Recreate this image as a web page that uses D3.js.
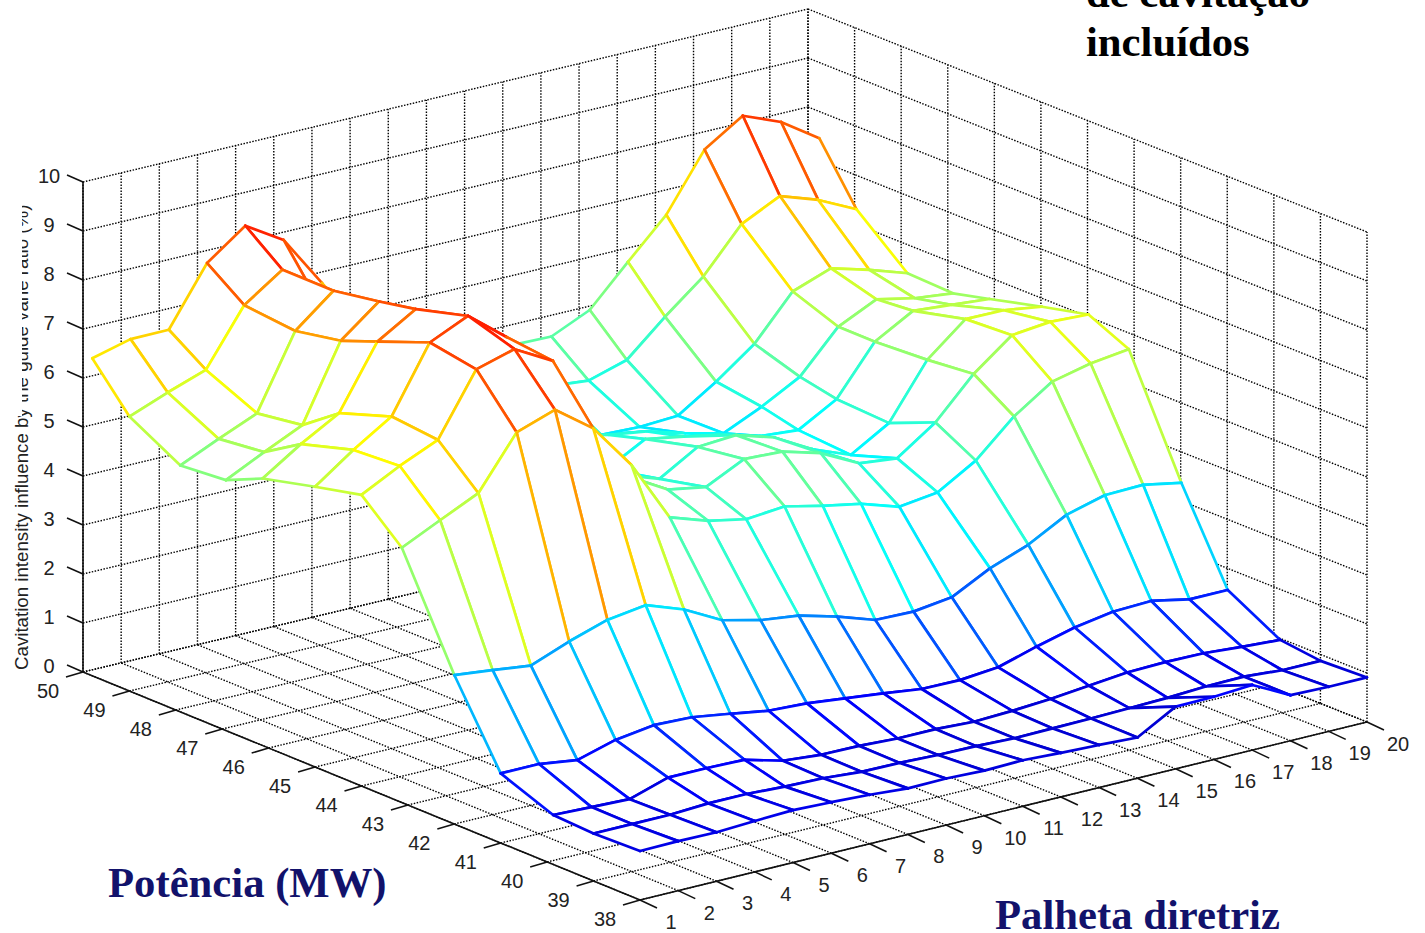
<!DOCTYPE html>
<html>
<head>
<meta charset="utf-8">
<script src="https://cdn.jsdelivr.net/npm/d3@7"></script>
<style>
  body { margin: 0; background: #fff; overflow: hidden; }
  text { font-family: "Liberation Sans", Arial, sans-serif; }
  .title { font-family: "Liberation Serif", "Times New Roman", serif; font-weight: bold; }
</style>
</head>
<body>
<script>
const palhetaTicks = d3.range(1, 21);
const potenciaTicks = d3.range(38, 51);
const zTicks = d3.range(0, 11);

// power values really sampled, they are not quite on the ticks
const potenciaGrid = [38, 39, 39.87, 41, 42, 43.13, 44, 45, 46.13, 46.92, 47.9, 49, 49.8];

const z38 = [1.00,1.01,1.00,1.04,1.07,1.04,1.00,0.94,0.95,0.92,0.94,0.90,0.87,0.83,1.27,1.28,1.33,0.93,0.91,0.91];
const z39 = [0.97,0.97,0.97,1.01,1.01,0.97,0.95,0.89,0.88,0.85,0.84,0.81,0.82,0.83,0.85,0.87,0.91,0.92,0.86,0.86];
const z40 = [1.01,0.98,0.95,1.20,1.20,1.18,0.97,0.90,0.89,0.85,0.85,0.81,0.84,0.89,0.97,1.05,1.07,1.06,1.00,0.95];
const z41 = [1.42,1.42,1.31,1.53,1.64,1.61,1.49,1.36,1.32,1.23,1.14,1.04,1.03,1.10,1.33,1.53,1.66,1.69,1.53,1.53];
const z42 = [3.04,2.95,2.85,3.15,3.40,3.51,3.23,2.82,2.63,2.53,2.32,2.06,2.04,2.14,2.54,2.83,3.25,3.46,3.48,3.33];
const z43 = [5.20,5.57,5.93,6.98,7.25,6.68,5.74,4.48,4.22,4.06,4.13,3.95,3.80,3.55,3.65,4.11,4.82,5.34,5.52,5.62];
const z44 = [5.94,6.34,6.68,7.93,8.15,7.72,5.30,4.97,4.52,4.38,4.76,4.72,4.50,4.10,4.01,4.55,5.35,5.95,6.03,5.99];
const z45 = [5.72,6.28,6.77,8.09,8.44,7.82,6.50,5.40,4.43,4.16,4.62,4.67,4.43,4.00,3.69,4.15,5.25,5.89,5.88,5.76];
const z46 = [5.45,5.96,6.40,7.67,8.14,7.60,6.60,5.50,4.20,3.92,4.34,4.20,4.05,3.83,3.76,4.20,5.18,5.62,5.55,5.48];
const z47 = [5.11,5.49,5.85,7.38,7.99,7.20,6.00,5.00,4.50,4.30,4.12,4.00,3.77,3.58,3.93,4.35,5.18,5.55,5.38,5.29];
const z48 = [5.03,5.38,5.71,7.20,7.83,7.00,6.00,5.00,4.30,3.90,3.70,3.55,3.52,3.56,4.06,4.64,5.52,5.80,5.58,5.32];
const z49 = [5.60,5.90,6.17,7.30,7.83,6.90,6.00,5.20,4.70,4.40,4.20,4.12,4.04,4.27,4.96,5.59,6.47,6.85,6.58,6.20];
const z50 = [6.48,6.68,6.68,7.85,8.42,7.94,6.87,5.80,5.30,5.00,4.80,4.65,4.63,4.98,5.77,6.54,7.68,8.18,7.86,7.34];
const zRows = [z38, z39, z40, z41, z42, z43, z44, z45, z46, z47, z48, z49, z50];

const w = 1425;
const h = 933;

const svg = d3.select("body").append("svg")
  .attr("width", w)
  .attr("height", h)
  .style("display", "block");

// oblique projection: each data axis gets its own pair of pixel scales
const xToPx = d3.scaleLinear().domain([1, 20]).range([0, 727]);
const xToPy = d3.scaleLinear().domain([1, 20]).range([0, -178]);
const yToPx = d3.scaleLinear().domain([38, 50]).range([0, -557]);
const yToPy = d3.scaleLinear().domain([38, 50]).range([0, -228]);
const zToPy = d3.scaleLinear().domain([0, 10]).range([0, -490]);

const project = (x, y, z) => [
  640 + xToPx(x) + yToPx(y),
  900 + xToPy(x) + yToPy(y) + zToPy(z)
];

// the scanned box is a bit skewed, its far corner sits lower than a true projection
const xFrac = d3.scaleLinear().domain([1, 20]).range([0, 1]);
const yFrac = d3.scaleLinear().domain([38, 50]).range([0, 1]);
const projectBox = (x, y, z) => {
  const p = project(x, y, z);
  const k = xFrac(x) * yFrac(y);
  return [p[0] - 2 * k, p[1] + 5 * k];
};

// jet colormap with caxis 0..10
const clamp = (v) => Math.max(0, Math.min(1, v));
const jet = (z) => {
  const t = z / 10;
  const r = clamp(Math.min(4 * t - 1.5, 4.5 - 4 * t));
  const g = clamp(Math.min(4 * t - 0.5, 3.5 - 4 * t));
  const b = clamp(Math.min(4 * t + 0.5, 2.5 - 4 * t));
  return d3.rgb(r * 255, g * 255, b * 255).formatHex();
};

const seg = (g, a, b) => g.append("line")
  .attr("x1", a[0]).attr("y1", a[1])
  .attr("x2", b[0]).attr("y2", b[1]);

// dotted grid on the two back walls and the floor
const gridG = svg.append("g")
  .attr("stroke", "#000")
  .attr("stroke-width", 1.4)
  .attr("stroke-dasharray", "1.5,1.5");

zTicks.forEach((z) => {
  seg(gridG, projectBox(1, 50, z), projectBox(20, 50, z));
  seg(gridG, projectBox(20, 50, z), projectBox(20, 38, z));
});
palhetaTicks.forEach((x) => {
  seg(gridG, projectBox(x, 50, 0), projectBox(x, 50, 10));
  seg(gridG, projectBox(x, 38, 0), projectBox(x, 50, 0));
});
potenciaTicks.forEach((y) => {
  seg(gridG, projectBox(20, y, 0), projectBox(20, y, 10));
  seg(gridG, projectBox(1, y, 0), projectBox(20, y, 0));
});

// axis lines
const axisG = svg.append("g").attr("stroke", "#111").attr("stroke-width", 1.6);
seg(axisG, project(1, 38, 0), project(20, 38, 0));
seg(axisG, project(1, 38, 0), project(1, 50, 0));
seg(axisG, project(1, 50, 0), project(1, 50, 10));

const tickLabel = (x, y, label) => svg.append("text")
  .attr("x", x).attr("y", y)
  .attr("text-anchor", "middle")
  .attr("dominant-baseline", "central")
  .attr("font-size", 20)
  .attr("fill", "#222")
  .text(label);

palhetaTicks.forEach((x) => {
  const p = project(x, 38, 0);
  seg(axisG, p, [p[0] + 17, p[1] + 8]);
  tickLabel(p[0] + 31, p[1] + 22, x);
});
potenciaTicks.forEach((y) => {
  const p = project(1, y, 0);
  seg(axisG, p, [p[0] - 17, p[1] + 5]);
  tickLabel(p[0] - 35, p[1] + 19, y);
});
zTicks.forEach((z) => {
  const p = project(1, 50, z);
  seg(axisG, p, [p[0] - 16, p[1] - 7]);
  tickLabel(p[0] - 34, p[1] - 6, z);
});

// z label, upper half is rubbed out in the original
svg.append("text")
  .attr("transform", "translate(28,670) rotate(-90)")
  .attr("font-size", 18.7)
  .attr("fill", "#222")
  .text("Cavitation intensity influence by the guide vane ratio (%)");
svg.append("rect")
  .attr("x", 0).attr("y", 150).attr("width", 22).attr("height", 266)
  .attr("fill", "#fff");

// mesh, far cells first so the white faces hide what is behind
const meshG = svg.append("g")
  .attr("fill", "none")
  .attr("stroke-width", 2.7)
  .attr("stroke-linecap", "round");

const node = (j, i) => project(palhetaTicks[i], potenciaGrid[j], zRows[j][i]);

for (let j = zRows.length - 1; j >= 1; j--) {
  for (let i = palhetaTicks.length - 2; i >= 0; i--) {
    const a = node(j, i);
    const b = node(j, i + 1);
    const c = node(j - 1, i + 1);
    const d = node(j - 1, i);
    meshG.append("polygon")
      .attr("points", [a, b, c, d].join(" "))
      .attr("fill", "#fff")
      .attr("stroke", "none");
    seg(meshG, a, b).attr("stroke", jet(zRows[j][i]));
    seg(meshG, b, c).attr("stroke", jet(zRows[j][i + 1]));
    seg(meshG, a, d).attr("stroke", jet(zRows[j][i]));
    seg(meshG, d, c).attr("stroke", jet(zRows[j - 1][i]));
  }
}

// pasted captions
const caption = (x, y, fill, label) => svg.append("text")
  .attr("class", "title")
  .attr("x", x).attr("y", y)
  .attr("font-size", 42.7)
  .attr("fill", fill)
  .text(label);

caption(108, 897, "#12126b", "Potência (MW)");
caption(995, 929, "#12126b", "Palheta diretriz");
caption(1086, 7, "#000", "de cavitação");
caption(1086, 56, "#000", "incluídos");
</script>
</body>
</html>
